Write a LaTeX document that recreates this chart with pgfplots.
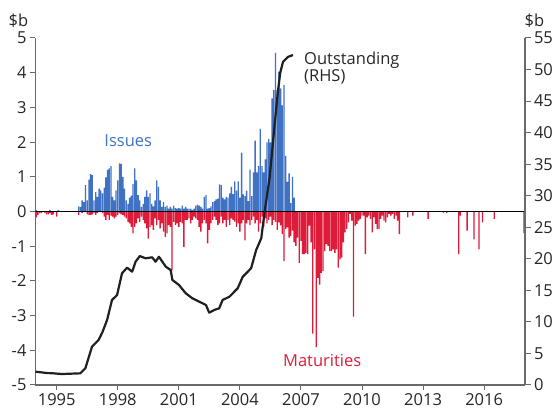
\documentclass[border=0pt]{standalone}
\usepackage{fontspec}
\setmainfont{Open Sans}
\usepackage{pgfplots}
\pgfplotsset{compat=1.18}
\usepackage{pgfplotstable}

\definecolor{issueblue}{RGB}{64,114,196}
\definecolor{matred}{RGB}{222,28,58}
\definecolor{outline}{RGB}{32,32,32}
\definecolor{axisgray}{RGB}{105,105,105}

% x = months since January 1994
\pgfplotstableread{
m v
0 0.04
8 0.05
13 0.05
25 0.15
26 0.13
27 0.32
28 0.27
29 0.76
30 0.32
31 0.92
32 1.08
33 1.05
34 0.32
35 0.56
36 0.42
37 0.66
38 0.61
39 0.52
40 0.69
41 0.98
42 1.20
43 1.24
44 1.31
45 0.42
46 0.32
47 0.61
48 0.90
49 1.39
50 1.37
51 1.00
52 0.66
53 0.32
54 0.22
55 0.40
56 0.46
57 0.79
58 1.24
59 0.90
60 0.47
61 0.32
62 0.13
63 0.22
64 0.42
65 0.61
66 0.42
67 0.52
68 0.22
69 0.15
70 0.32
71 0.90
72 0.71
73 0.32
74 0.13
75 0.27
76 0.13
77 0.17
78 0.08
79 0.13
80 0.08
81 0.17
82 0.10
83 0.08
84 0.10
85 0.08
86 0.17
87 0.08
88 0.13
89 0.08
90 0.08
91 0.08
92 0.05
93 0.08
94 0.17
95 0.20
96 0.17
97 0.13
98 0.08
99 0.42
100 0.47
101 0.08
102 0.10
103 0.15
104 0.27
105 0.30
106 0.35
107 0.37
108 0.78
109 0.76
110 0.40
111 0.35
112 0.42
113 0.40
114 0.52
115 0.71
116 0.50
117 0.87
118 0.60
119 0.87
120 0.40
121 1.70
122 0.49
123 0.44
124 0.60
125 0.30
126 1.21
127 0.44
128 1.13
129 2.04
130 1.13
131 1.31
132 2.38
133 1.31
134 1.13
135 1.50
136 1.99
137 2.09
138 1.99
139 3.26
140 3.50
141 4.57
142 3.50
143 4.03
144 3.55
145 3.06
146 3.64
147 1.60
148 0.85
149 1.10
150 0.24
151 1.00
152 0.40
}\issues

\pgfplotstableread{
m v
0 -0.17
1 -0.10
2 -0.05
3 -0.05
5 -0.03
6 -0.08
7 -0.08
8 -0.05
9 -0.10
10 -0.08
12 -0.15
25 -0.10
27 -0.05
30 -0.08
31 -0.10
32 -0.10
33 -0.08
34 -0.05
35 -0.10
36 -0.05
39 -0.05
40 -0.15
41 -0.24
42 -0.10
43 -0.24
44 -0.12
45 -0.15
46 -0.20
47 -0.15
48 -0.10
49 -0.05
50 -0.08
51 -0.10
52 -0.15
53 -0.20
54 -0.30
55 -0.34
56 -0.44
57 -0.63
58 -0.44
59 -0.34
60 -0.20
61 -0.30
62 -0.15
63 -0.24
64 -0.34
65 -0.49
66 -0.78
67 -0.44
68 -0.39
69 -0.53
70 -0.20
71 -0.39
72 -0.24
73 -0.49
74 -0.34
75 -0.58
76 -0.73
77 -0.63
78 -0.39
79 -0.44
80 -1.70
81 -0.30
82 -0.39
83 -0.34
84 -0.44
85 -0.30
86 -0.34
87 -1.02
88 -0.24
89 -0.24
90 -0.20
91 -0.34
92 -0.24
93 -0.15
94 -0.20
95 -0.24
96 -0.44
97 -0.58
98 -0.34
99 -0.24
100 -0.34
101 -0.92
102 -0.53
103 -0.34
104 -0.24
105 -0.15
106 -0.24
107 -0.39
108 -0.34
109 -0.15
110 -0.34
111 -0.24
112 -0.44
113 -0.24
114 -0.39
115 -0.20
116 -0.24
117 -0.29
118 -0.44
119 -0.34
120 -0.58
121 -0.34
122 -0.24
123 -0.83
124 -0.34
125 -0.24
126 -0.39
127 -0.24
128 -0.15
129 -0.34
130 -0.24
131 -0.58
132 -0.34
133 -0.15
134 -0.44
135 -0.20
136 -0.34
137 -0.24
138 -0.15
139 -0.39
140 -0.24
141 -0.30
142 -0.53
143 -0.31
144 -0.40
145 -0.65
146 -1.43
147 -0.50
148 -0.46
149 -0.75
150 -0.70
151 -0.55
152 -0.89
153 -0.99
154 -0.75
155 -1.48
156 -0.85
157 -1.23
158 -1.23
159 -1.19
160 -1.23
161 -0.41
162 -0.89
163 -3.52
164 -1.09
165 -3.91
166 -1.91
167 -2.11
168 -1.77
169 -1.72
170 -1.14
171 -0.94
172 -0.99
173 -1.14
174 -1.14
175 -1.09
176 -1.19
177 -1.09
178 -1.62
179 -1.38
180 -1.33
181 -0.89
182 -0.60
183 -0.50
184 -0.31
185 -0.07
186 -0.26
187 -3.03
188 -0.41
189 -0.36
190 -0.26
191 -0.21
192 -0.12
193 -0.12
194 -1.23
195 -0.17
196 -0.12
197 -0.21
198 -0.60
199 -0.17
200 -0.36
201 -0.50
202 -0.50
203 -0.21
204 -0.12
205 -0.26
206 -0.31
207 -0.17
208 -0.07
209 -0.12
210 -0.07
211 -0.21
212 -0.12
213 -0.26
214 -0.65
219 -0.17
222 -0.12
231 -0.21
240 -0.03
242 -0.05
249 -1.23
250 -0.12
254 -0.55
258 -0.80
261 -1.09
263 -0.31
270 -0.21
287.6 -0.62
}\maturities

\pgfplotstableread{
m v
-0.5 2.11
3 2.00
6 1.90
10 1.85
15 1.74
21 1.80
25.9 1.85
28.9 2.65
32.8 6.07
36.7 7.13
39.0 8.40
41.7 10.30
44.6 13.47
47.6 14.26
50.5 17.70
53.5 18.60
56.5 17.96
58.5 19.54
61.0 20.44
64.4 20.08
68.3 20.24
70.3 19.54
72.3 20.33
76.3 18.75
79.2 18.23
80.2 16.64
84.1 15.85
88.1 14.53
92.0 13.74
98.0 12.95
100.0 12.68
101.9 11.46
104.9 11.89
107.8 12.16
109.8 13.47
113.8 13.99
118.7 15.32
121.7 17.16
126.6 18.49
129.6 21.39
132.6 23.25
134.6 27.46
137.5 32.80
140.4 41.00
142.4 46.50
143.8 49.50
145.4 51.20
148.3 52.00
151.3 52.30
}\outstanding

\begin{document}
\begin{tikzpicture}
\useasboundingbox (-35.5pt,-26pt) rectangle (520.5pt,385pt);
\pgfplotsset{
  base/.style={
    scale only axis, width=489.5pt, height=347pt,
    xmin=-0.5, xmax=288.1,
    tick align=outside, major tick length=5.5pt,
    tick style={axisgray, line width=1pt},
    axis line style={axisgray, line width=1.4pt},
    ticklabel style={font=\fontsize{16.5}{18}\selectfont, text=black!85},
  },
}
\begin{axis}[base,
  ymin=-5, ymax=5,
  axis y line*=left, axis x line*=bottom,
  ytick={-5,-4,...,5},
  yticklabels={-5,-4,-3,-2,-1,0,1,2,3,4,5},
  xtick={12,48,84,120,156,192,228,264},
  xticklabels={1995,1998,2001,2004,2007,2010,2013,2016},
]
\addplot[ybar, bar width=0.8, bar shift=0pt, fill=issueblue, draw=none] table[x=m, y=v] {\issues};
\addplot[ybar, bar width=0.8, bar shift=0pt, fill=matred, draw=none] table[x=m, y=v] {\maturities};
\draw[black, line width=1pt] (rel axis cs:0,0.5) -- (rel axis cs:1,0.5);
\node[issueblue, font=\fontsize{16.5}{18}\selectfont] at (axis cs:54.2,2.05) {Issues};
\node[matred, font=\fontsize{16.5}{18}\selectfont, anchor=base] at (axis cs:168.5,-4.46) {Maturities};
\node[black!85, font=\fontsize{16.5}{18}\selectfont, anchor=base west, inner sep=0pt] at (axis cs:157.8,4.23) {Outstanding};
\node[black!85, font=\fontsize{16.5}{18}\selectfont, anchor=base west, inner sep=0pt] at (axis cs:157.8,3.74) {(RHS)};
\end{axis}
\begin{axis}[base,
  ymin=0, ymax=55,
  axis y line*=right, axis x line=none,
  ytick={0,5,...,55},
  yticklabels={0,5,10,15,20,25,30,35,40,45,50,55},
]
\addplot[outline, line width=2.2pt, line join=round] table[x=m, y=v] {\outstanding};
\end{axis}
\node[black!85, font=\fontsize{16.5}{18}\selectfont] at (-17pt,364pt) {\$b};
\node[black!85, font=\fontsize{16.5}{18}\selectfont] at (499pt,364pt) {\$b};
\end{tikzpicture}
\end{document}
